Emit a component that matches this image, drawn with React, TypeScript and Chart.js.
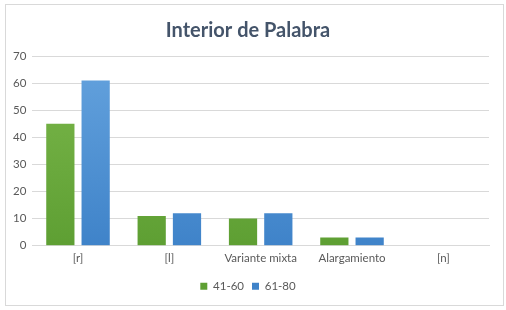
import React, { useEffect, useRef } from "react";
import { Chart, registerables } from "chart.js";

Chart.register(...registerables);

const categories = ["[r]", "[l]", "Variante mixta", "Alargamiento", "[n]"];
const series1Label = "41-60";
const series2Label = "61-80";
const series1 = [45, 11, 10, 3, 0];
const series2 = [61, 12, 12, 3, 0];

function grad(ctx: any, area: any, top: string, bottom: string) {
  if (!area) return bottom;
  const g = ctx.createLinearGradient(0, area.bottom, 0, area.top);
  g.addColorStop(0, bottom);
  g.addColorStop(1, top);
  return g;
}

export default function App() {
  const ref = useRef<HTMLCanvasElement>(null);
  useEffect(() => {
    document.body.style.margin = "0";
    const chart = new Chart(ref.current!, {
      type: "bar",
      data: {
        labels: categories,
        datasets: [
          {
            label: series1Label,
            data: series1,
            backgroundColor: (c: any) => grad(c.chart.ctx, c.chart.chartArea, "#7cb84c", "#5e9f33"),
            borderColor: "#6aa83f",
            borderWidth: 0,
          },
          {
            label: series2Label,
            data: series2,
            backgroundColor: (c: any) => grad(c.chart.ctx, c.chart.chartArea, "#65a3de", "#3f83c9"),
            borderColor: "#4f92d3",
            borderWidth: 0,
          },
        ],
      },
      options: {
        animation: false,
        responsive: false,
        maintainAspectRatio: false,
        categoryPercentage: 0.773,
        barPercentage: 0.8,
        layout: { padding: { left: 1, right: 14, top: 4, bottom: 3 } },
        plugins: {
          title: {
            display: true,
            text: "Interior de Palabra",
            color: "#44546a",
            font: { family: "Lato", size: 20, weight: "bold" },
            padding: { top: 10, bottom: 13 },
          },
          legend: {
            position: "bottom",
            labels: {
              color: "#595959",
              font: { family: "Lato", size: 11.5 },
              boxWidth: 7,
              boxHeight: 7,
              padding: 8,
            },
          },
          tooltip: { enabled: false },
        },
        scales: {
          x: {
            grid: { display: false, drawTicks: false },
            border: { display: true, color: "#d9d9d9" },
            ticks: { color: "#595959", font: { family: "Lato", size: 11.5 }, padding: 6 },
            afterFit: (s: any) => {
              s.height += 1;
            },
          },
          y: {
            min: 0,
            max: 70,
            ticks: { stepSize: 10, color: "#595959", font: { family: "Lato", size: 11.5 }, padding: 6 },
            grid: { color: "#d9d9d9", drawTicks: false },
            border: { display: false },
          },
        },
      },
    });
    return () => chart.destroy();
  }, []);
  return (
    <div
      style={{
        position: "fixed",
        left: 5,
        top: 4,
        width: 497,
        height: 300,
        border: "1px solid #d9d9d9",
        background: "#fff",
      }}
    >
      <canvas ref={ref} width={497} height={300} style={{ display: "block" }} />
    </div>
  );
}
